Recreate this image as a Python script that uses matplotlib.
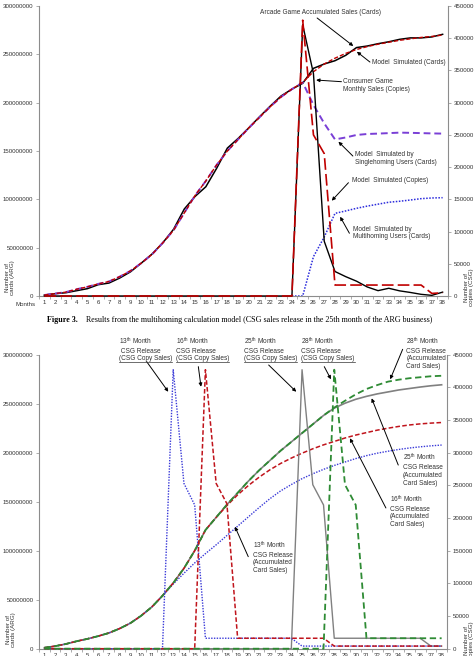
import numpy as np
import matplotlib.pyplot as plt
from matplotlib.lines import Line2D
from matplotlib.ticker import FuncFormatter, MultipleLocator
from matplotlib.transforms import IdentityTransform

plt.rcParams['font.family'] = 'Liberation Sans'
plt.rcParams['mathtext.fontset'] = 'custom'
plt.rcParams['mathtext.rm'] = 'Liberation Sans'

months = np.arange(1, 39)

# ---- Figure 3 (top): cards in millions, copies in thousands ----
arcade_cards = [1.0, 2.4, 3.4, 5.5, 7.6, 11.7, 13.4, 18.6, 25.0, 34.0,
                43.4, 55.0, 69.0, 90.0, 103.0, 113.0, 132.0, 153.0, 163.0, 174.0,
                185.5, 196.6, 207.0, 214.0, 220.0, 235.5, 240.0, 243.4, 249.0, 257.0,
                258.6, 261.0, 263.0, 265.5, 267.0, 267.0, 268.0, 270.7]
model_cards = [1.0, 2.5, 4.0, 7.0, 9.5, 12.5, 15.0, 20.0, 26.0, 34.0,
               43.0, 55.0, 68.0, 86.0, 104.0, 119.0, 135.5, 150.0, 162.0, 174.0,
               185.0, 196.0, 206.0, 214.0, 221.0, 232.0, 240.0, 246.0, 251.0, 255.0,
               258.0, 260.5, 262.5, 264.5, 266.0, 267.5, 268.5, 270.0]
single_cards = [1.0, 2.5, 4.0, 7.0, 9.5, 12.5, 15.0, 20.0, 26.0, 34.0,
                43.0, 55.0, 68.0, 86.0, 104.0, 119.0, 135.5, 150.0, 162.0, 174.0,
                185.0, 196.0, 206.0, 214.0, 221.0, 197.6, 178.6, 162.0, 164.0, 166.6,
                167.6, 168.0, 168.5, 169.0, 168.8, 168.5, 168.2, 168.0]
multi_months = np.arange(24, 39)
multi_cards = [0.0, 0.0, 40.7, 61.0, 85.5, 88.0, 90.7, 93.0, 95.0, 97.0,
               98.0, 99.3, 100.7, 101.4, 101.7]
consumer_copies = [0, 0, 0, 0, 0, 0, 0, 0, 0, 0, 0, 0, 0, 0, 0, 0, 0, 0, 0, 0,
                   0, 0, 0, 0, 421, 345, 85, 38, 30, 23, 14, 8.3, 12, 8, 5.5, 2.6, 1, 6]
model_copies = [0, 0, 0, 0, 0, 0, 0, 0, 0, 0, 0, 0, 0, 0, 0, 0, 0, 0, 0, 0,
                0, 0, 0, 0, 428, 250, 221, 17, 17, 17, 17, 17, 17, 17, 17, 17, 4, 5]

# ---- bottom chart: release in month 13 / 16 / 25 / 28 ----
rel13_cards = [1.0, 2.6, 4.8, 7.6, 10.0, 12.8, 16.0, 20.5, 26.0, 33.5,
               42.5, 54.0, 66.0, 77.0, 87.5, 97.0, 106.0, 115.5, 125.0, 134.5,
               144.0, 153.0, 161.0, 167.5, 173.5, 178.5, 183.0, 187.0, 190.5, 194.0,
               197.0, 199.5, 201.5, 203.3, 204.8, 206.0, 207.0, 207.8]
rel16_cards = [1.0, 2.6, 4.8, 7.6, 10.0, 12.8, 16.0, 20.5, 26.0, 33.5,
               42.5, 54.0, 67.0, 82.0, 100.0, 121.0, 134.0, 146.0, 157.0, 166.5,
               175.0, 182.5, 189.0, 194.5, 199.5, 204.0, 208.0, 211.5, 215.0, 218.0,
               220.5, 223.0, 225.0, 226.8, 228.3, 229.4, 230.2, 230.8]
rel25_cards = [1.0, 2.6, 4.8, 7.6, 10.0, 12.8, 16.0, 20.5, 26.0, 33.5,
               42.5, 54.0, 67.0, 82.0, 100.0, 121.0, 134.0, 147.0, 159.0, 171.0,
               182.0, 192.0, 202.0, 211.0, 220.0, 229.0, 238.0, 245.5, 250.5, 254.5,
               257.5, 260.0, 262.0, 264.0, 265.5, 267.0, 268.3, 269.3]
rel28_cards = [1.0, 2.6, 4.8, 7.6, 10.0, 12.8, 16.0, 20.5, 26.0, 33.5,
               42.5, 54.0, 67.0, 82.0, 100.0, 121.0, 134.0, 147.0, 159.0, 171.0,
               182.0, 192.0, 202.0, 211.0, 220.0, 229.0, 238.0, 246.0, 253.0, 259.5,
               265.0, 269.0, 272.5, 274.5, 276.0, 277.0, 278.0, 278.5]
rel13_copies = [0, 0, 0, 0, 0, 0, 0, 0, 0, 0, 0, 0, 427, 253, 220, 16, 16, 16, 16, 16,
                16, 16, 16, 16, 4, 4, 4, 4, 4, 4, 4, 4, 4, 4, 4, 4, 4, 4]
rel16_copies = [0, 0, 0, 0, 0, 0, 0, 0, 0, 0, 0, 0, 0, 0, 0, 427, 253, 222, 16, 16,
                16, 16, 16, 16, 16, 16, 16, 4, 4, 4, 4, 4, 4, 4, 4, 4, 4, 4]
rel25_copies = [0, 0, 0, 0, 0, 0, 0, 0, 0, 0, 0, 0, 0, 0, 0, 0, 0, 0, 0, 0,
                0, 0, 0, 0, 427, 251, 220, 16, 16, 16, 16, 16, 16, 16, 16, 16, 4, 4]
rel28_copies = [0, 0, 0, 0, 0, 0, 0, 0, 0, 0, 0, 0, 0, 0, 0, 0, 0, 0, 0, 0,
                0, 0, 0, 0, 0, 0, 0, 427, 251, 220, 16, 16, 16, 16, 16, 16, 16, 16]

W, H = 477, 656
fig = plt.figure(figsize=(W / 100, H / 100), dpi=100)

AXC = '#8c8c8c'
TXT = '#333333'
FS = 4.7


def setup(ax, axr):
    ax.set_xlim(0.5, 38.5)
    ax.set_ylim(0, 300e6)
    axr.set_ylim(0, 450e3)
    ax.set_yticks(np.arange(0, 300e6 + 1, 50e6))
    axr.set_yticks(np.arange(0, 450e3 + 1, 50e3))
    fmt = FuncFormatter(lambda v, p: '%d' % v)
    ax.yaxis.set_major_formatter(fmt)
    axr.yaxis.set_major_formatter(fmt)
    ax.set_xticks(months)
    ax.xaxis.set_minor_locator(MultipleLocator(1, offset=0.5))
    ax.tick_params(axis='x', which='major', length=0, pad=3.2, labelsize=4.4, labelcolor=TXT)
    ax.tick_params(axis='x', which='minor', length=2, width=0.5, color=AXC, direction='out')
    ax.tick_params(axis='y', length=2, width=0.5, color=AXC, pad=2, labelsize=4.4, labelcolor=TXT)
    axr.tick_params(axis='y', length=2, width=0.5, color=AXC, pad=2, labelsize=4.4, labelcolor=TXT)
    for s in ['top', 'right']:
        ax.spines[s].set_visible(False)
    for s in ['top', 'left', 'bottom']:
        axr.spines[s].set_visible(False)
    for s in ['left', 'bottom']:
        ax.spines[s].set_color(AXC)
        ax.spines[s].set_linewidth(0.8)
    axr.spines['right'].set_color(AXC)
    axr.spines['right'].set_linewidth(0.8)


def note(ax, axr, text, pos, tail, head, ha='left', va='center'):
    t = axr.text(pos[0], pos[1], text, transform=ax.transData, fontsize=FS, ha=ha, va=va,
                 linespacing=1.15, color=TXT)
    axr.annotate('', xy=head, xytext=tail, xycoords=ax.transData, textcoords=ax.transData,
                 arrowprops=dict(arrowstyle='-|>', lw=0.7, color='black',
                                 mutation_scale=5, shrinkA=0, shrinkB=0))
    return t


# ================= top chart =================
ax1 = fig.add_axes([39 / W, 1 - 296 / H, 409 / W, 290 / H])
ax1r = ax1.twinx()
setup(ax1, ax1r)

m6 = 1e6
ax1.plot(months, np.array(arcade_cards) * m6, color='black', lw=1.1, clip_on=False)
ax1.plot(months, np.array(single_cards) * m6, color='#7a3fd6', lw=1.4,
         ls=(0, (3.5, 2)), clip_on=False)
ax1.plot(months, np.array(model_cards) * m6, color='#c00000', lw=1.0,
         ls=(0, (3, 1.5)), clip_on=False)
ax1.plot(multi_months, np.array(multi_cards) * m6, color='#2b2bdc', lw=1.1,
         ls=(0, (1, 1)), clip_on=False)
ax1r.plot(months, np.array(consumer_copies) * 1e3, color='black', lw=1.0, clip_on=False)
ax1r.plot(months, np.array(model_copies) * 1e3, color='#c00000', lw=1.2,
          ls=(0, (7, 2.5)), clip_on=False)

note(ax1, ax1r, 'Arcade Game Accumulated Sales (Cards)', (26.7, 292.8e6),
     (26.34, 287.6e6), (29.7, 258.6e6), ha='center')
note(ax1, ax1r, 'Model  Simulated (Cards)', (31.4, 242e6),
     (31.25, 242e6), (30.03, 252.7e6))
note(ax1, ax1r, 'Consumer Game\nMonthly Sales (Copies)', (28.75, 218e6),
     (28.6, 221.7e6), (26.25, 223.4e6))
note(ax1, ax1r, 'Model  Simulated by\nSinglehoming Users (Cards)', (29.9, 142e6),
     (29.66, 144.8e6), (28.32, 159.6e6))
note(ax1, ax1r, 'Model  Simulated (Copies)', (29.55, 119.3e6),
     (29.25, 117.2e6), (27.7, 98.6e6))
note(ax1, ax1r, 'Model  Simulated by\nMultihoming Users (Cards)', (29.7, 65.2e6),
     (29.34, 64.9e6), (28.48, 82e6))

fig.text(16 / W, 1 - 305 / H, 'Months', fontsize=4.4, color=TXT, va='center')
fig.text(10 / W, 1 - 295 / H, 'Number of\ncards (ARG)', fontsize=4.5, color=TXT,
         rotation=90, ha='center', va='bottom', linespacing=1.0)
fig.text(469 / W, 1 - 306 / H, 'Number of\ncopies (CSG)', fontsize=4.5, color=TXT,
         rotation=90, ha='center', va='bottom', linespacing=1.0)

fig.text(47 / W, 1 - 319.5 / H, 'Figure 3.', fontfamily='Liberation Serif',
         fontweight='bold', fontsize=5.75, va='center')
fig.text(85.7 / W, 1 - 319.5 / H,
         'Results from the multihoming calculation model (CSG sales release in the 25th month of the ARG business)',
         fontfamily='Liberation Serif', fontsize=5.75, va='center')

# ================= bottom chart =================
ax2 = fig.add_axes([39 / W, 1 - 648.7 / H, 408 / W, 294 / H])
ax2r = ax2.twinx()
setup(ax2, ax2r)

c13, c16, c25, c28 = '#3a3ad8', '#c0141c', '#808080', '#2e8b34'
ax2.plot(months, np.array(rel25_cards) * m6, color=c25, lw=1.2, clip_on=False)
ax2.plot(months, np.array(rel13_cards) * m6, color=c13, lw=1.0, ls=(0, (1, 1)), clip_on=False)
ax2.plot(months, np.array(rel16_cards) * m6, color=c16, lw=1.1, ls=(0, (3, 1.5)), clip_on=False)
ax2.plot(months, np.array(rel28_cards) * m6, color=c28, lw=1.3, ls=(0, (3.5, 2)), clip_on=False)
ax2r.plot(months, np.array(rel25_copies) * 1e3, color=c25, lw=1.0, clip_on=False)
ax2r.plot(months, np.array(rel13_copies) * 1e3, color=c13, lw=1.0, ls=(0, (1, 1)), clip_on=False)
ax2r.plot(months, np.array(rel16_copies) * 1e3, color=c16, lw=1.1, ls=(0, (3, 1.5)), clip_on=False)
ax2r.plot(months, np.array(rel28_copies) * 1e3, color=c28, lw=1.3, ls=(0, (3.5, 2)), clip_on=False)

copy_labels = [
    note(ax2, ax2r, '13$^{\\rm th}$ Month\n CSG Release\n(CSG Copy Sales)', (7.95, 319.6e6),
         (10.53, 292.9e6), (12.54, 262.2e6), va='top'),
    note(ax2, ax2r, '16$^{\\rm th}$ Month\nCSG Release\n(CSG Copy Sales)', (13.23, 319.6e6),
         (15.34, 287.8e6), (15.59, 267.3e6), va='top'),
    note(ax2, ax2r, '25$^{\\rm th}$ Month\nCSG Release\n(CSG Copy Sales)', (19.56, 319.6e6),
         (21.89, 289.5e6), (24.46, 262.2e6), va='top'),
    note(ax2, ax2r, '28$^{\\rm th}$ Month\nCSG Release\n(CSG Copy Sales)', (24.93, 319.6e6),
         (27.07, 287.8e6), (27.69, 274.9e6), va='top'),
]
note(ax2, ax2r, '28$^{\\rm th}$ Month\nCSG Release\n(Accumulated\nCard Sales)', (34.7, 319.6e6),
     (34.37, 305.5e6), (33.21, 274.9e6), va='top')
note(ax2, ax2r, '25$^{\\rm th}$ Month\nCSG Release\n(Accumulated\nCard Sales)', (34.37, 200.7e6),
     (33.96, 187.4e6), (31.48, 255.5e6), va='top')
note(ax2, ax2r, '16$^{\\rm th}$ Month\nCSG Release\n(Accumulated\nCard Sales)', (33.16, 158.4e6),
     (32.81, 143.6e6), (29.46, 214.7e6), va='top')
note(ax2, ax2r, '13$^{\\rm th}$ Month\nCSG Release\n(Accumulated\nCard Sales)', (20.43, 111.4e6),
     (19.99, 93.9e6), (18.75, 124.5e6), va='top')

fig.text(11 / W, 1 - 646.7 / H, 'Number of\ncards (ARG)', fontsize=4.5, color=TXT,
         rotation=90, ha='center', va='bottom', linespacing=1.0)
fig.text(469 / W, 1 - 659 / H, 'Number of\ncopies (CSG)', fontsize=4.5, color=TXT,
         rotation=90, ha='center', va='bottom', linespacing=1.0)

# underline the "(CSG Copy Sales)" line of each label
fig.canvas.draw()
r = fig.canvas.get_renderer()
for t in copy_labels:
    bb = t.get_window_extent(r)
    fig.add_artist(Line2D([bb.x0, bb.x1], [bb.y0 + 0.6, bb.y0 + 0.6], lw=0.5,
                          color=TXT, transform=IdentityTransform()))

fig.savefig('out.png', dpi=100)
